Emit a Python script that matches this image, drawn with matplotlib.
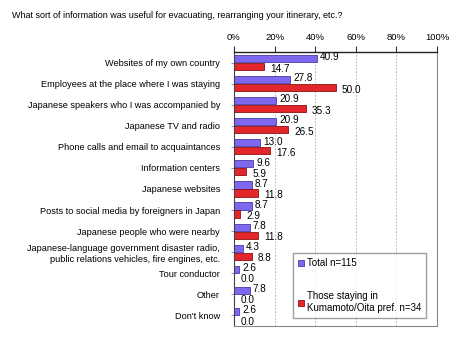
import matplotlib.pyplot as plt
import numpy as np

plt.rcParams['font.family'] = ['Liberation Sans', 'DejaVu Sans']

categories = [
    "Websites of my own country",
    "Employees at the place where I was staying",
    "Japanese speakers who I was accompanied by",
    "Japanese TV and radio",
    "Phone calls and email to acquaintances",
    "Information centers",
    "Japanese websites",
    "Posts to social media by foreigners in Japan",
    "Japanese people who were nearby",
    "Japanese-language government disaster radio,\npublic relations vehicles, fire engines, etc.",
    "Tour conductor",
    "Other",
    "Don't know",
]
total = [40.9, 27.8, 20.9, 20.9, 13.0, 9.6, 8.7, 8.7, 7.8, 4.3, 2.6, 7.8, 2.6]
kumamoto = [14.7, 50.0, 35.3, 26.5, 17.6, 5.9, 11.8, 2.9, 11.8, 8.8, 0.0, 0.0, 0.0]
series_names = ["Total n=115", "Those staying in\nKumamoto/Oita pref. n=34"]
xticks = [0, 20, 40, 60, 80, 100]

fig = plt.figure(figsize=(4.66, 3.49), dpi=100)
ax = fig.add_axes([0.502, 0.066, 0.436, 0.785])

y = np.arange(len(categories))
h = 0.34
b1 = ax.barh(y - h / 2 - 0.02, total, height=h, color="#7e68f0", edgecolor="#4a3aa8",
             linewidth=0.6, label=series_names[0])
b2 = ax.barh(y + h / 2 + 0.02, kumamoto, height=h, color="#e3262b", edgecolor="#8c1010",
             linewidth=0.6, label=series_names[1])

for yi, v in zip(y, total):
    ax.annotate(f"{v:.1f}", (v, yi - h / 2 - 0.08), xytext=(2, 0), textcoords="offset points",
                ha="left", va="center", fontsize=7.2)
for yi, v in zip(y, kumamoto):
    ax.annotate(f"{v:.1f}", (v, yi + h / 2 + 0.12), xytext=(4.5, 0), textcoords="offset points",
                ha="left", va="center", fontsize=7.2)

ax.set_xlim(0, 100)
ax.set_ylim(len(categories) - 0.5, -0.5)
ax.set_xticks(xticks)
ax.set_xticklabels([f"{t}%" for t in xticks], fontsize=6.8)
ax.xaxis.tick_top()
ax.tick_params(axis="x", length=4, width=0.8, color="#333333", pad=3)
ax.set_yticks(y)
ax.set_yticklabels(categories, fontsize=6.6, linespacing=1.3)
ax.tick_params(axis="y", length=2, width=0.6, color="#7777cc", pad=8)
for t in xticks[1:-1]:
    ax.axvline(t, color="#aaaaaa", linestyle=(0, (2, 2)), linewidth=0.6, zorder=0)

ax.spines["top"].set_color("#222222")
ax.spines["top"].set_linewidth(1.0)
ax.spines["left"].set_color("#444444")
ax.spines["right"].set_color("#888888")
ax.spines["bottom"].set_color("#888888")

leg = ax.legend(loc="lower right", bbox_to_anchor=(0.97, 0.012), fontsize=7,
                frameon=True, fancybox=False, edgecolor="#888888", handlelength=0.6,
                handleheight=0.6, handletextpad=0.3, labelspacing=2.4, borderpad=0.5)
leg.get_frame().set_linewidth(1.0)

fig.text(0.026, 0.955, "What sort of information was useful for evacuating, rearranging your itinerary, etc.?",
         fontsize=6.5, ha="left", va="center")

fig.savefig("out.png", dpi=100)
